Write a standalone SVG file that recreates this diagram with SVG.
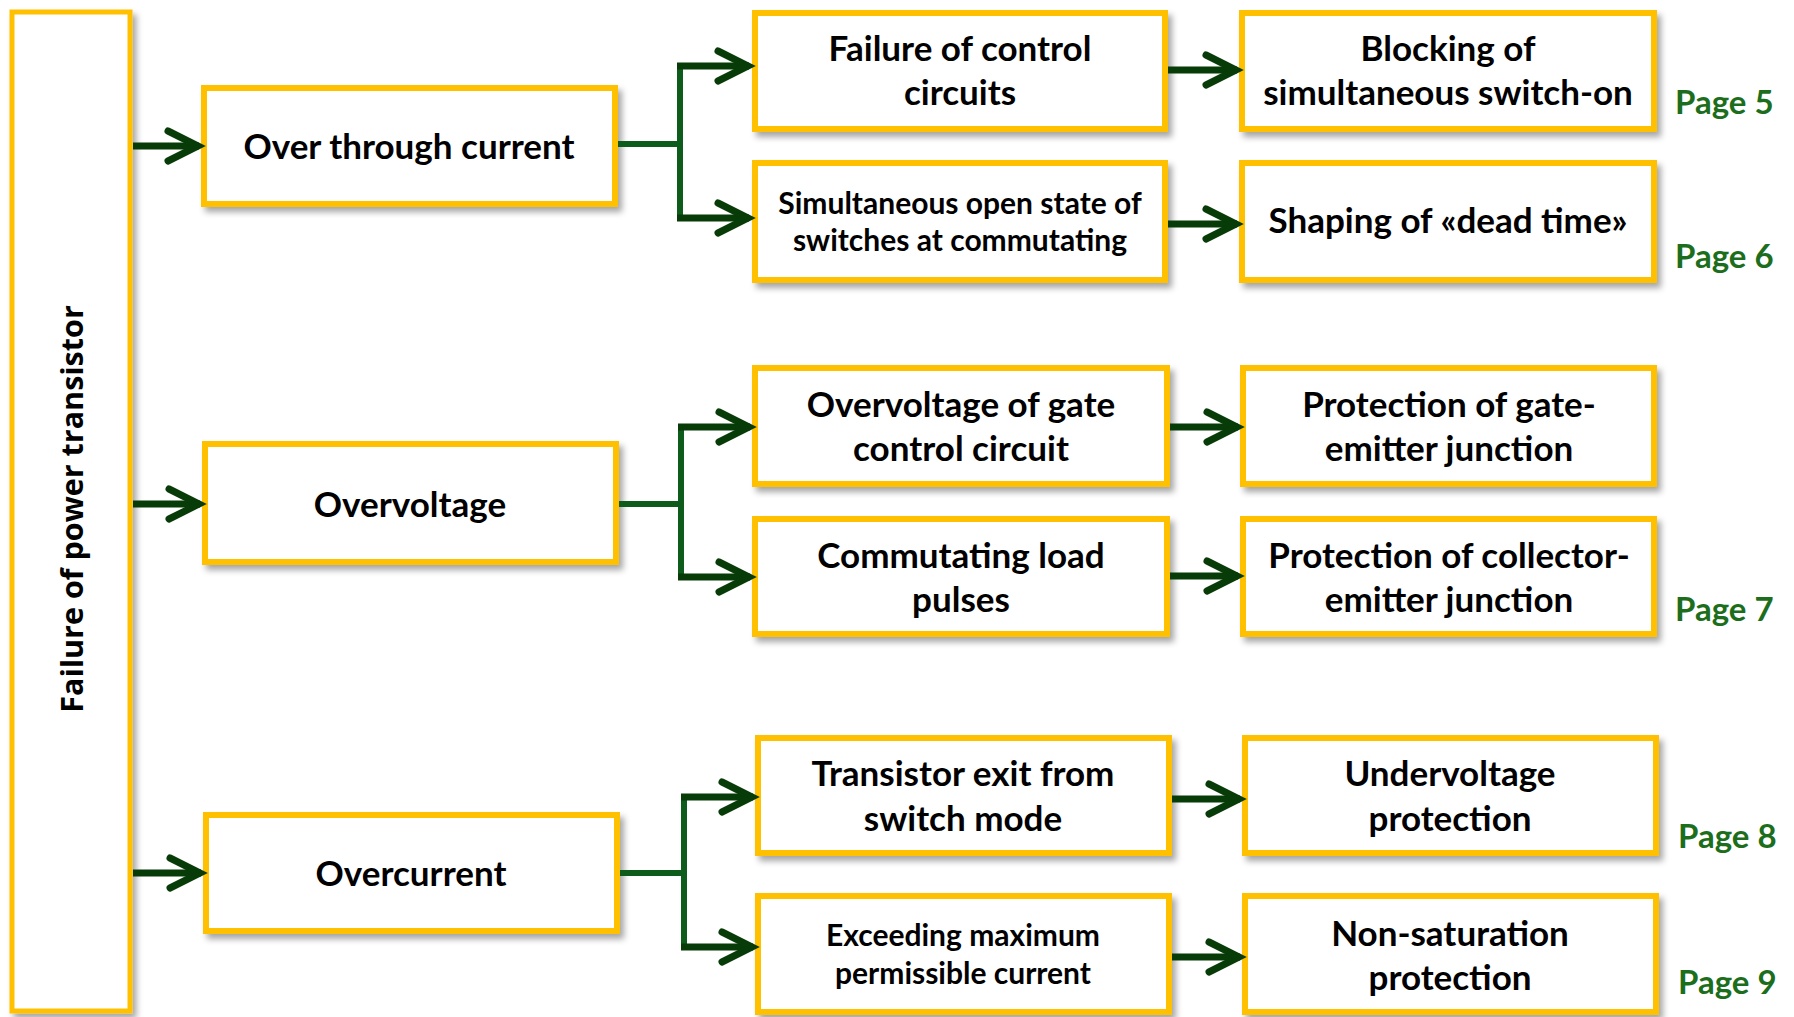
<svg xmlns="http://www.w3.org/2000/svg" width="1794" height="1017" viewBox="0 0 1794 1017">
<defs>
<filter id="sh" x="-10%" y="-10%" width="125%" height="130%">
<feDropShadow dx="4" dy="5" stdDeviation="3" flood-color="#000" flood-opacity="0.35"/>
</filter>
<marker id="ah" markerUnits="userSpaceOnUse" markerWidth="50" markerHeight="50" viewBox="-40 -25 50 50" refX="0" refY="0" orient="auto" overflow="visible">
<path d="M-31,-15 L-1,0 L-31,15" fill="none" stroke="#073b07" stroke-width="7" stroke-linecap="round" stroke-linejoin="miter"/>
</marker>
<style>
.box{fill:#fff;stroke:#FFC000;stroke-width:6;filter:url(#sh)}
.t{font-family:Lato,"Open Sans","Liberation Sans",sans-serif;font-weight:bold;font-size:35px;fill:#000;text-anchor:middle}
.s{font-size:30px}
.pg{font-family:Lato,"Open Sans","Liberation Sans",sans-serif;font-weight:bold;font-size:33px;fill:#1c6e1c}
.arr{fill:none;stroke:#073b07;stroke-width:7;marker-end:url(#ah)}
.br{fill:none;stroke:#0e5c1c;stroke-width:6}
</style>
</defs>

<g id="root">
<rect class="box" x="12" y="12" width="118" height="999" style="stroke-width:5"/>
<text transform="translate(83,509) rotate(-90)" style="font-family:'Open Sans','Noto Sans',sans-serif;font-weight:bold;font-size:30.5px;text-anchor:middle">Failure of power transistor</text>
</g>

<g id="n-overthrough">
<rect class="box" x="204" y="88" width="411" height="116"/>
<text class="t" x="409" y="159">Over through current</text>
</g>
<g id="n-overvoltage">
<rect class="box" x="205" y="444" width="411" height="118"/>
<text class="t" x="410" y="517">Overvoltage</text>
</g>
<g id="n-overcurrent">
<rect class="box" x="206" y="815" width="411" height="116"/>
<text class="t" x="411" y="886">Overcurrent</text>
</g>

<g id="n-failctrl">
<rect class="box" x="755" y="13" width="410" height="116"/>
<text class="t" x="960" y="61">Failure of control</text>
<text class="t" x="960" y="105">circuits</text>
</g>
<g id="n-simopen">
<rect class="box" x="755" y="163" width="410" height="117"/>
<text class="t s" x="960" y="214">Simultaneous open state of</text>
<text class="t s" x="960" y="251">switches at commutating</text>
</g>
<g id="n-ovgate">
<rect class="box" x="755" y="368" width="412" height="116"/>
<text class="t" x="961" y="417">Overvoltage of gate</text>
<text class="t" x="961" y="461">control circuit</text>
</g>
<g id="n-commload">
<rect class="box" x="755" y="519" width="412" height="115"/>
<text class="t" x="961" y="568">Commutating load</text>
<text class="t" x="961" y="612">pulses</text>
</g>
<g id="n-exitswitch">
<rect class="box" x="758" y="738" width="411" height="115"/>
<text class="t" x="963" y="786">Transistor exit from</text>
<text class="t" x="963" y="831">switch mode</text>
</g>
<g id="n-exceeding">
<rect class="box" x="758" y="896" width="411" height="116"/>
<text class="t s" x="963" y="946">Exceeding maximum</text>
<text class="t s" x="963" y="984">permissible current</text>
</g>

<g id="n-blocking">
<rect class="box" x="1242" y="13" width="412" height="116"/>
<text class="t" x="1448" y="61">Blocking of</text>
<text class="t" x="1448" y="105">simultaneous switch-on</text>
</g>
<g id="n-deadtime">
<rect class="box" x="1242" y="163" width="412" height="117"/>
<text class="t" x="1448" y="233">Shaping of «dead time»</text>
</g>
<g id="n-protgate">
<rect class="box" x="1243" y="368" width="411" height="116"/>
<text class="t" x="1449" y="417">Protection of gate-</text>
<text class="t" x="1449" y="461">emitter junction</text>
</g>
<g id="n-protcoll">
<rect class="box" x="1243" y="519" width="411" height="115"/>
<text class="t" x="1449" y="568">Protection of collector-</text>
<text class="t" x="1449" y="612">emitter junction</text>
</g>
<g id="n-underv">
<rect class="box" x="1245" y="738" width="411" height="115"/>
<text class="t" x="1450" y="786">Undervoltage</text>
<text class="t" x="1450" y="831">protection</text>
</g>
<g id="n-nonsat">
<rect class="box" x="1245" y="896" width="411" height="116"/>
<text class="t" x="1450" y="946">Non-saturation</text>
<text class="t" x="1450" y="990">protection</text>
</g>

<g id="pages">
<text class="pg" x="1675" y="114">Page 5</text>
<text class="pg" x="1675" y="268">Page 6</text>
<text class="pg" x="1675" y="621">Page 7</text>
<text class="pg" x="1678" y="848">Page 8</text>
<text class="pg" x="1678" y="994">Page 9</text>
</g>

<g id="connectors">
<path class="arr" d="M133,146 H199"/>
<path class="arr" d="M133,504 H200"/>
<path class="arr" d="M133,873 H201"/>

<path class="br" d="M618,144 H680 M680,63 V221"/>
<path class="arr" d="M677,66 H749"/>
<path class="arr" d="M677,218 H749"/>
<path class="arr" d="M1168,70 H1237"/>
<path class="arr" d="M1168,224 H1237"/>

<path class="br" d="M619,504 H681 M681,424 V580"/>
<path class="arr" d="M678,427 H750"/>
<path class="arr" d="M678,577 H750"/>
<path class="arr" d="M1170,427 H1238"/>
<path class="arr" d="M1170,576 H1238"/>

<path class="br" d="M620,873 H684 M684,794 V950"/>
<path class="arr" d="M681,797 H753"/>
<path class="arr" d="M681,947 H753"/>
<path class="arr" d="M1172,799 H1240"/>
<path class="arr" d="M1172,957 H1240"/>
</g>
</svg>
